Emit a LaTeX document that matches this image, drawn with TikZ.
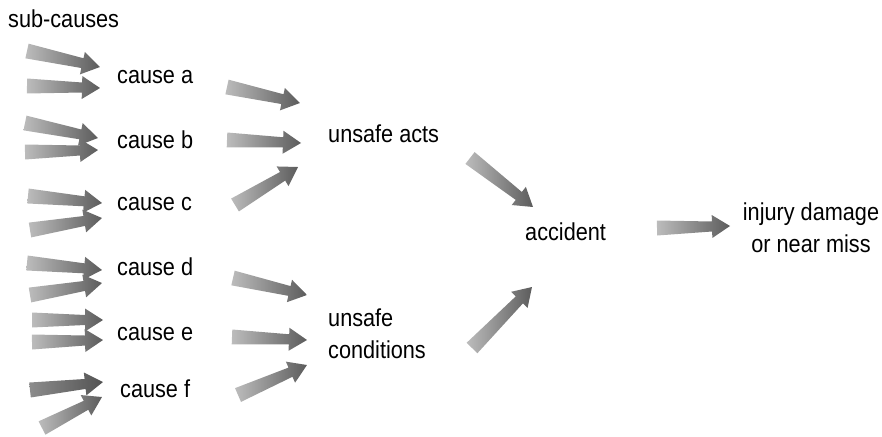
\documentclass[tikz,border=0pt]{standalone}
\usepackage{fontspec}
\setmainfont{Liberation Sans}[FakeStretch=0.885]
\usetikzlibrary{calc}
\definecolor{arlight}{RGB}{188,188,188}
\definecolor{ardark}{RGB}{92,92,92}
\definecolor{armid}{RGB}{140,140,140}
\tikzset{
  lbl/.style={font=\fontsize{24.5}{32}\selectfont, inner sep=0pt, anchor=base west},
  shaft/.style={left color=arlight, right color=ardark, draw=none},
  darkshaft/.style={left color=armid, right color=ardark!90!black},
}
\newcommand\blockarrow[3][]{%
  \path let \p1=($(#3)-(#2)$), \n1={atan2(\y1,\x1)}, \n2={veclen(\x1,\y1)} in
    \pgfextra{\xdef\arang{\n1}\xdef\arlen{\n2}};
  \begin{scope}[shift={(#2)}, rotate=\arang]
    \shade[shaft,#1] (0,-7.5) -- (\arlen-18,-5) -- (\arlen-18,-11.5) -- (\arlen,0)
      -- (\arlen-18,11.5) -- (\arlen-18,5) -- (0,7.5) -- cycle;
  \end{scope}}
\begin{document}
\begin{tikzpicture}[x=1pt,y=-1pt]
\useasboundingbox (0,0) rectangle (882,436);
% labels
\node[lbl] (sub) at (8,28) {sub-causes};
\node[lbl] (ca) at (117,83) {cause a};
\node[lbl] (cb) at (117,148) {cause b};
\node[lbl] (cc) at (117,210) {cause c};
\node[lbl] (cd) at (117,275) {cause d};
\node[lbl] (ce) at (117,340) {cause e};
\node[lbl] (cf) at (120,397) {cause f};
\node[lbl] (ua) at (328,142) {unsafe acts};
\node[lbl, align=left] (uc) at (328,358) {unsafe\\conditions};
\node[lbl] (acc) at (525,240) {accident};
\node[lbl, anchor=base, align=center] (inj) at (811,252) {injury damage\\or near miss};
% arrow end points
\coordinate (a1t) at (27,51);   \coordinate (a1h) at (100,67);
\coordinate (a2t) at (27,86);   \coordinate (a2h) at (100,88);
\coordinate (b1t) at (25,123);  \coordinate (b1h) at (98,138);
\coordinate (b2t) at (25,152);  \coordinate (b2h) at (98,150);
\coordinate (c1t) at (28,196);  \coordinate (c1h) at (102,203);
\coordinate (c2t) at (30,230);  \coordinate (c2h) at (102,218);
\coordinate (d1t) at (27,263);  \coordinate (d1h) at (102,270);
\coordinate (d2t) at (30,295);  \coordinate (d2h) at (102,283);
\coordinate (e1t) at (32,320);  \coordinate (e1h) at (103,320);
\coordinate (e2t) at (32,342);  \coordinate (e2h) at (103,340);
\coordinate (f1t) at (30,390);  \coordinate (f1h) at (103,382);
\coordinate (f2t) at (42,428);  \coordinate (f2h) at (102,397);
\coordinate (u1t) at (227,87);  \coordinate (u1h) at (300,103);
\coordinate (u2t) at (227,140); \coordinate (u2h) at (301,143);
\coordinate (u3t) at (235,205); \coordinate (u3h) at (298,167);
\coordinate (v1t) at (233,278); \coordinate (v1h) at (307,295);
\coordinate (v2t) at (232,337); \coordinate (v2h) at (307,340);
\coordinate (v3t) at (238,395); \coordinate (v3h) at (307,365);
\coordinate (x1t) at (470,158); \coordinate (x1h) at (533,207);
\coordinate (x2t) at (472,348); \coordinate (x2h) at (532,287);
\coordinate (ot) at (657,228);  \coordinate (oh) at (730,226);
% arrows
\blockarrow{a1t}{a1h}
\blockarrow{a2t}{a2h}
\blockarrow{b1t}{b1h}
\blockarrow{b2t}{b2h}
\blockarrow{c1t}{c1h}
\blockarrow{c2t}{c2h}
\blockarrow{d1t}{d1h}
\blockarrow{d2t}{d2h}
\blockarrow{e1t}{e1h}
\blockarrow{e2t}{e2h}
\blockarrow[darkshaft]{f1t}{f1h}
\blockarrow{f2t}{f2h}
\blockarrow{u1t}{u1h}
\blockarrow{u2t}{u2h}
\blockarrow{u3t}{u3h}
\blockarrow{v1t}{v1h}
\blockarrow{v2t}{v2h}
\blockarrow{v3t}{v3h}
\blockarrow{x1t}{x1h}
\blockarrow{x2t}{x2h}
\blockarrow{ot}{oh}
\end{tikzpicture}
\end{document}
